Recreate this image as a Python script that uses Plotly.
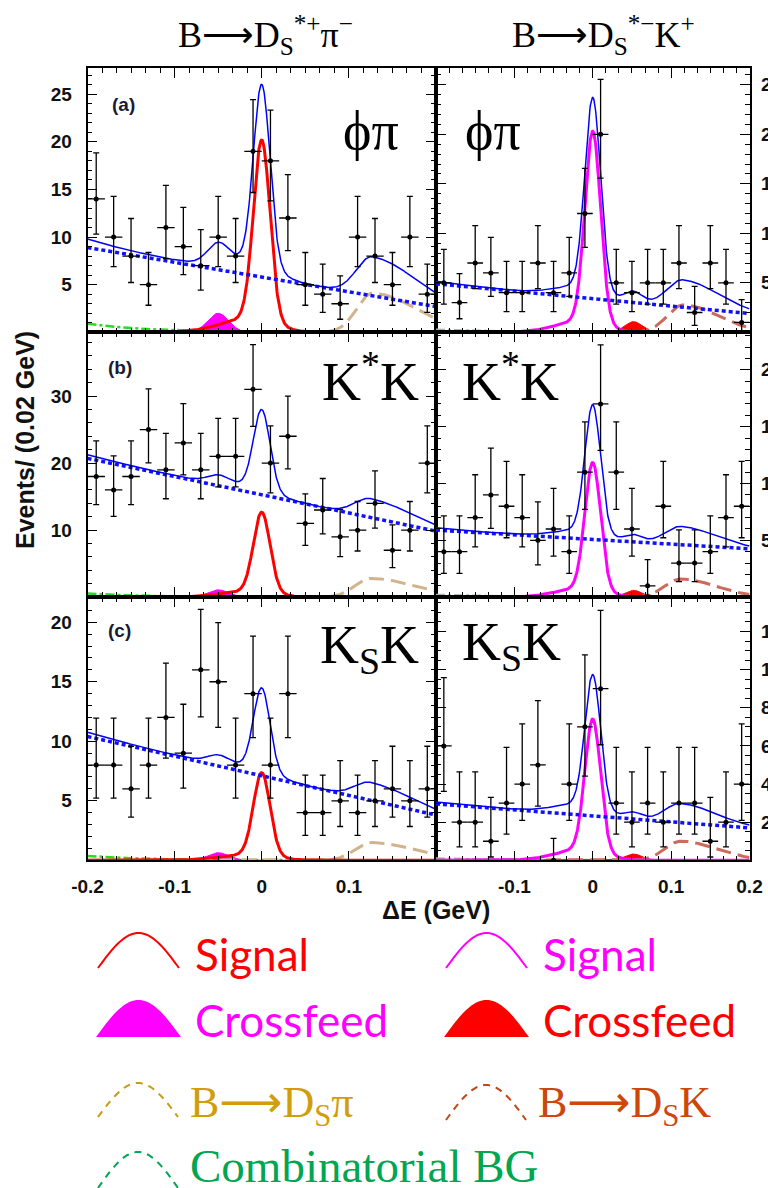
import numpy as np
import plotly.graph_objects as go

W, H = 768, 1188

# ---------------- data ----------------
BIN_CENTERS = [-0.19, -0.17, -0.15, -0.13, -0.11, -0.09, -0.07, -0.05, -0.03, -0.01,
               0.01, 0.03, 0.05, 0.07, 0.09, 0.11, 0.13, 0.15, 0.17, 0.19]
BIN_HALF_WIDTH = 0.01

# panel order: (a) left, (b) left, (c) left, (a) right, (b) right, (c) right
counts_phipi_dspi = [14, 10, 8, 5, 11, 9, 7, 10, 8, 19, 18, 12, 5, 4, 3, 10, 8, 5, 10, 4]
counts_kstk_dspi = [18, 16, 18, 25, 19, 23, 19, 21, 21, 31, 20, 24, 11, 13, 9, 10, 14, 7, 10, 20]
counts_ksk_dspi = [8, 8, 6, 8, 12, 9, 16, 15, 8, 14, 8, 14, 4, 4, 5, 4, 5, 6, 5, 6]
counts_phipi_dsk = [5, 3, 7, 6, 4, 4, 7, 4, 6, 12, 20, 5, 4, 5, 5, 7, 2, 7, 5, 1]
counts_kstk_dsk = [4, 4, 7, 9, 8, 7, 5, 6, 4, 11, 17, 11, 6, 1, 8, 3, 3, 4, 7, 8]
counts_ksk_dsk = [6, 2, 2, 1, 3, 4, 5, 0, 4, 7, 9, 3, 2, 3, 2, 3, 3, 1, 2, 4]
COUNTS = [counts_phipi_dspi, counts_kstk_dspi, counts_ksk_dspi,
          counts_phipi_dsk, counts_kstk_dsk, counts_ksk_dsk]

# Poisson 68% interval limits (lower, upper) per count, as drawn
POISSON_LIMITS = {0: (0.0, 1.15), 1: (0.173, 3.30), 2: (0.708, 4.64), 3: (1.37, 5.92),
                  4: (2.09, 7.16), 5: (2.84, 8.38), 6: (3.62, 9.58), 7: (4.42, 10.77),
                  8: (5.23, 11.95), 9: (6.06, 13.11), 10: (6.89, 14.27), 11: (7.73, 15.42),
                  12: (8.58, 16.56), 13: (9.44, 17.70), 14: (10.30, 18.83), 15: (11.17, 19.96),
                  16: (12.04, 21.08), 17: (12.92, 22.20), 18: (13.80, 23.32), 19: (14.68, 24.44),
                  20: (15.57, 25.55), 21: (16.45, 26.66), 23: (18.24, 28.87), 24: (19.14, 29.97),
                  25: (20.04, 31.07), 31: (25.46, 37.65)}

# fitted components, same panel order
BKG_AT_M02 = [8.9, 20.7, 10.4, 4.9, 5.9, 2.96]
BKG_AT_P02 = [2.7, 9.85, 3.8, 1.9, 4.26, 1.7]
SIG_PEAK = [18.8, 11.85, 6.9, 19.2, 11.1, 6.85]
SIG_SIGMA = [0.0095, 0.0095, 0.0095, 0.010, 0.010, 0.010]
SIG_TAIL = [1.5, 0.9, 0.5, 1.2, 0.8, 0.6]
XFEED_PEAK = [2.0, 1.1, 0.64, 1.08, 0.6, 0.33]
XFEED_MEAN = [-0.05, -0.05, -0.05, 0.052, 0.052, 0.052]
XFEED_SIGMA = [0.012, 0.012, 0.012, 0.011, 0.011, 0.011]
PEAKING_AMP = [4.1, 2.8, 1.5, 2.76, 1.6, 1.0]
PEAKING_MEAN = [0.127, 0.125, 0.125, 0.115, 0.112, 0.112]
COMB_AT_M02 = [0.9, 0.55, 0.36, 0.25, 0.2, 0.1]

Y_MAX = [27.75, 39.5, 22.1, 26.7, 23.3, 13.8]
Y_TICKS = [[5, 10, 15, 20, 25], [10, 20, 30], [5, 10, 15, 20],
           [5, 10, 15, 20, 25], [5, 10, 15, 20], [2, 4, 6, 8, 10, 12]]
Y_MINOR = [1, 2, 1, 1, 1, 0.5]
X_TICKS_LEFT = [-0.2, -0.1, 0, 0.1]
X_TICKS_RIGHT = [-0.1, 0, 0.1, 0.2]
X_TICK_TEXT_LEFT = ['-0.2', '-0.1', '0', '0.1']
X_TICK_TEXT_RIGHT = ['-0.1', '0', '0.1', '0.2']

PANEL_TAGS = ['(a)', '(b)', '(c)']
MODE_LABELS = ['\u03d5\u03c0', 'K<sup>*</sup>K', 'K<sub>S</sub>K']

# ---------------- helpers ----------------
def gauss(x, a, mu, s):
    return a * np.exp(-0.5 * ((x - mu) / s) ** 2)


def bifur(x, a, mu, sl, sr):
    s = np.where(x < mu, sl, sr)
    return a * np.exp(-0.5 * ((x - mu) / s) ** 2)


def px(x):
    return x / W


def py(y):
    return 1 - y / H


COL_X = [(87.5, 436.0), (436.0, 749.5)]
ROW_Y = [(68.0, 332.3), (332.3, 597.2), (597.2, 860.3)]

xs = np.linspace(-0.2, 0.2, 801)

fig = go.Figure()
tickfont = dict(family='Liberation Sans', size=19, color='#111111', weight='bold')

for i in range(6):
    col, row = i // 3, i % 3
    n = i + 1
    xref = 'x' if n == 1 else f'x{n}'
    yref = 'y' if n == 1 else f'y{n}'

    bkg = BKG_AT_M02[i] + (BKG_AT_P02[i] - BKG_AT_M02[i]) * (xs + 0.2) / 0.4
    sig = gauss(xs, SIG_PEAK[i], 0.0, SIG_SIGMA[i]) + bifur(xs, SIG_TAIL[i], -0.01, 0.035, 0.025)
    cf = gauss(xs, XFEED_PEAK[i], XFEED_MEAN[i], XFEED_SIGMA[i])
    if col == 0:
        pk = bifur(xs, PEAKING_AMP[i], PEAKING_MEAN[i], 0.018, 0.05)
    else:
        pk = bifur(xs, PEAKING_AMP[i], PEAKING_MEAN[i], 0.02, 0.045)
    comb = COMB_AT_M02[i] * np.exp(-(xs + 0.2) / 0.07)
    total = bkg + sig + cf + pk + comb

    sig_col = '#FF0000' if col == 0 else '#FF00FF'
    cf_col = '#FF00FF' if col == 0 else '#FF0000'
    pk_col = '#D2B48C' if col == 0 else '#CD6A5C'
    comb_col = '#22DD22' if col == 0 else '#A8B8B0'

    common = dict(xaxis=xref, yaxis=yref, hoverinfo='skip', showlegend=False)
    fig.add_trace(go.Scatter(x=xs, y=comb, mode='lines',
                             line=dict(color=comb_col, width=2.5, dash='dashdot'), **common))
    fig.add_trace(go.Scatter(x=xs, y=cf, mode='lines', fill='tozeroy', fillcolor=cf_col,
                             line=dict(color=cf_col, width=1), **common))
    fig.add_trace(go.Scatter(x=xs, y=pk, mode='lines',
                             line=dict(color=pk_col, width=3, dash='15px,7px'), **common))
    fig.add_trace(go.Scatter(x=xs, y=sig, mode='lines',
                             line=dict(color=sig_col, width=3), **common))
    fig.add_trace(go.Scatter(x=xs, y=bkg, mode='lines',
                             line=dict(color='#1010FF', width=3.5, dash='4px,3px'), **common))
    fig.add_trace(go.Scatter(x=xs, y=total, mode='lines',
                             line=dict(color='#0000FF', width=1.5), **common))

    cnt = COUNTS[i]
    up = [POISSON_LIMITS[c][1] - c for c in cnt]
    dn = [c - POISSON_LIMITS[c][0] for c in cnt]
    fig.add_trace(go.Scatter(
        x=BIN_CENTERS, y=cnt, mode='markers',
        marker=dict(color='black', size=5),
        error_x=dict(type='constant', value=BIN_HALF_WIDTH, color='black', thickness=1.3, width=0),
        error_y=dict(type='data', symmetric=False, array=up, arrayminus=dn,
                     color='black', thickness=1.3, width=3),
        **common))

    x0, x1 = COL_X[col]
    y0, y1 = ROW_Y[row]
    bottom = row == 2
    if col == 0:
        tv, tt = X_TICKS_LEFT, X_TICK_TEXT_LEFT
    else:
        tv, tt = X_TICKS_RIGHT, X_TICK_TEXT_RIGHT
    xaxis = dict(domain=[px(x0), px(x1)], range=[-0.2, 0.2], anchor=yref, automargin=False,
                 showline=True, linecolor='black', linewidth=1.5, mirror='ticks',
                 ticks='inside', ticklen=10, tickwidth=1.2, tickcolor='black',
                 tickmode='array', tickvals=[-0.2, -0.1, 0, 0.1, 0.2] if not bottom else tv,
                 ticktext=None if not bottom else tt,
                 showticklabels=bottom, tickfont=tickfont, ticklabelstandoff=8,
                 minor=dict(tickmode='linear', tick0=-0.2, dtick=0.1 / 6, ticks='inside',
                            ticklen=5, tickwidth=1, tickcolor='black'),
                 showgrid=False, zeroline=False, fixedrange=True)
    yaxis = dict(domain=[py(y1), py(y0)], range=[0, Y_MAX[i]], anchor=xref, automargin=False,
                 side='left' if col == 0 else 'right',
                 showline=True, linecolor='black', linewidth=1.5, mirror='ticks',
                 ticks='inside', ticklen=10, tickwidth=1.2, tickcolor='black',
                 tickmode='array', tickvals=Y_TICKS[i], ticktext=[str(v) for v in Y_TICKS[i]],
                 tickfont=tickfont, ticklabelstandoff=10 if col == 0 else 6,
                 minor=dict(tickmode='linear', tick0=0, dtick=Y_MINOR[i], ticks='inside',
                            ticklen=5, tickwidth=1, tickcolor='black'),
                 showgrid=False, zeroline=False, fixedrange=True)
    fig.layout[f'xaxis{"" if n == 1 else n}'] = xaxis
    fig.layout[f'yaxis{"" if n == 1 else n}'] = yaxis

annotations = []


def ann(text, x, y, size, family, color='black', xanchor='center', yanchor='middle',
        weight='normal', angle=0):
    annotations.append(dict(text=text, x=px(x), y=py(y), xref='paper', yref='paper',
                            xanchor=xanchor, yanchor=yanchor, showarrow=False,
                            textangle=angle,
                            font=dict(family=family, size=size, color=color, weight=weight)))


SERIF = 'Liberation Serif'
SANS = 'Liberation Sans'
ARROW = '<span style="font-family:DejaVu Sans">\u27f6</span>'

# column titles
ann('B' + ARROW + 'D<sub>S</sub><sup>*+</sup>\u03c0<sup>\u2212</sup>', 265, 35, 36, SERIF)
ann('B' + ARROW + 'D<sub>S</sub><sup>*\u2212</sup>K<sup>+</sup>', 603, 35, 36, SERIF)

# panel tags and decay-mode labels
tag_pos = [(110, 104), (106, 367), (106, 630)]
mode_pos_left = [(341, 131), (320, 378), (318, 648)]
mode_pos_right = [(463, 131), (460, 378), (460, 645)]
for r in range(3):
    ann(PANEL_TAGS[r], tag_pos[r][0], tag_pos[r][1], 19, SANS, color='#1a1a33',
        xanchor='left', weight='bold')
    ann(MODE_LABELS[r], mode_pos_left[r][0], mode_pos_left[r][1], 54, SERIF, xanchor='left')
    ann(MODE_LABELS[r], mode_pos_right[r][0], mode_pos_right[r][1], 54, SERIF, xanchor='left')

# axis titles
ann('Events/ (0.02 GeV)', 25, 440, 25, SANS, color='#111111', weight='bold', angle=-90)
ann('\u0394E (GeV)', 436, 910, 25, SANS, color='#111111', weight='bold')

# legend texts
LEG_FONT = 'Lato'
ann('Signal', 193, 954, 44, LEG_FONT, color='#FF0000', xanchor='left')
ann('Signal', 541, 954, 44, LEG_FONT, color='#FF00FF', xanchor='left')
ann('Crossfeed', 193, 1020, 44, LEG_FONT, color='#FF00FF', xanchor='left')
ann('Crossfeed', 541, 1020, 44, LEG_FONT, color='#FF0000', xanchor='left')
ann('B' + ARROW + 'D<sub>S</sub>\u03c0', 188, 1104, 44, SERIF, color='#D19E0A', xanchor='left')
ann('B' + ARROW + 'D<sub>S</sub>K', 536, 1104, 44, SERIF, color='#CD460A', xanchor='left')
ann('Combinatorial BG', 188, 1166, 47, SERIF, color='#00A651', xanchor='left')

fig.update_layout(annotations=annotations)


# legend glyphs (decoration)
def hump_path(x0, x1, ybase, ytop, closed):
    t = np.linspace(0, 1, 41)
    xx = x0 + (x1 - x0) * t
    yy = ybase - (ybase - ytop) * np.sin(np.pi * t)
    pts = [f'{px(a):.5f},{py(b):.5f}' for a, b in zip(xx, yy)]
    p = 'M' + ' L'.join(pts)
    if closed:
        p += ' Z'
    return p


shapes = []
glyphs = [
    (98, 179, 968, 933, '#FF0000', False, 'solid'),
    (446, 527, 968, 933, '#FF00FF', False, 'solid'),
    (98, 179, 1036, 1001, '#FF00FF', True, 'solid'),
    (446, 527, 1036, 1001, '#FF0000', True, 'solid'),
    (98, 178, 1117, 1083, '#C89B10', False, 'dash'),
    (446, 526, 1120, 1085, '#C0461A', False, 'dash'),
    (98, 178, 1188, 1152, '#00A651', False, 'dash'),
]
for x0, x1, yb, yt, c, closed, dash in glyphs:
    shapes.append(dict(type='path', path=hump_path(x0, x1, yb, yt, closed),
                       xref='paper', yref='paper',
                       line=dict(color=c, width=2, dash='7px,6px' if dash == 'dash' else 'solid'),
                       fillcolor=c if closed else 'rgba(0,0,0,0)'))
fig.update_layout(shapes=shapes)

fig.update_layout(width=W, height=H, margin=dict(l=0, r=0, t=0, b=0),
                  paper_bgcolor='white', plot_bgcolor='white', showlegend=False)

fig.write_html('out.html')
